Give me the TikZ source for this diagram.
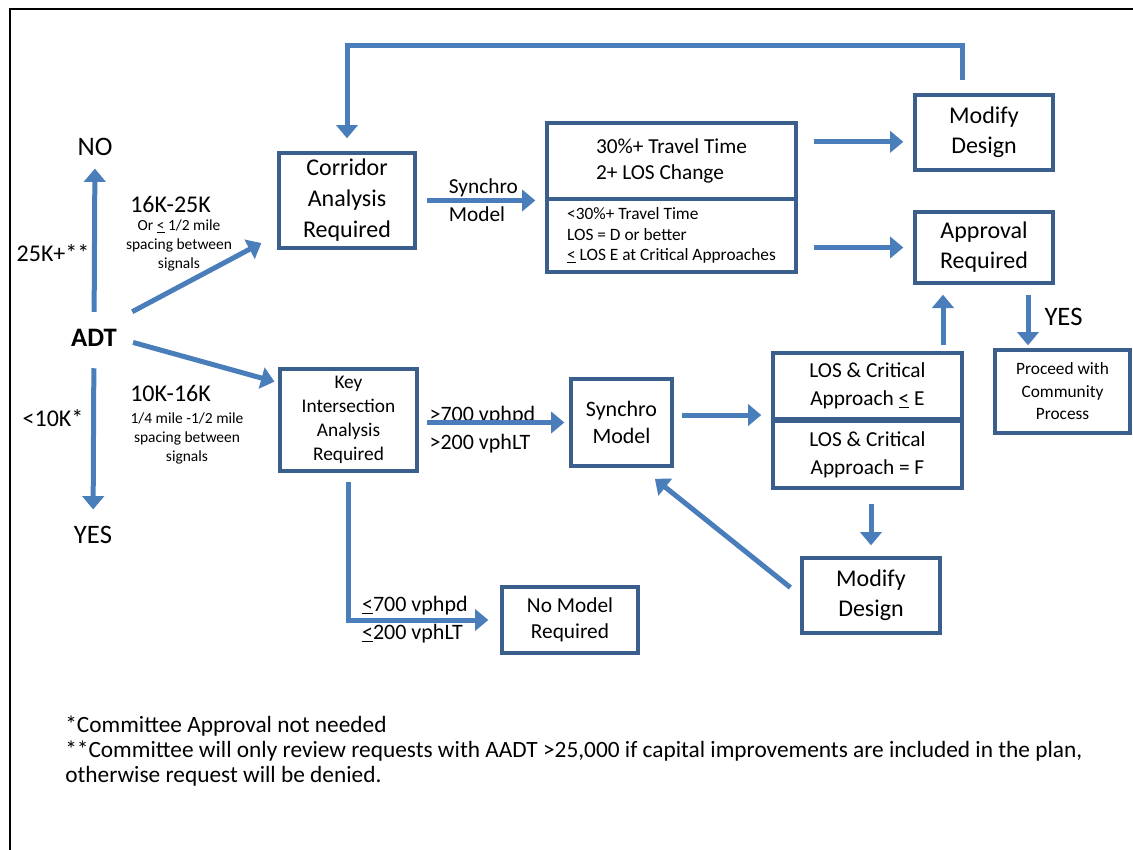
\documentclass[tikz,border=0pt]{standalone}
\usepackage{fontspec}
\setmainfont{Carlito}
\usetikzlibrary{arrows.meta, positioning}
\definecolor{arrowblue}{HTML}{4A7EBB}
\definecolor{boxline}{HTML}{3A5F8C}
\newcommand{\fs}[2]{\fontsize{#1}{#2}\selectfont}

\begin{document}
\begin{tikzpicture}[x=0.75pt, y=-0.75pt,
    box/.style={draw=boxline, line width=2.5pt, rectangle, align=center, inner sep=2pt},
    arr/.style={draw=arrowblue, line width=3.75pt, -{Triangle[length=10pt, width=16pt]}},
    lbl/.style={inner sep=0pt, align=center}]
    \useasboundingbox (0,0) rectangle (1133,850);

    % Outline
    \draw[line width=1.5pt] (10,850) -- (10,9) -- (1133,9);

    % ADT split
    \node[lbl, font=\fs{20}{24}\bfseries] (ADT) at (94,338) {ADT};
    \node[lbl, font=\fs{20}{24}] (No) at (95,147) {NO};
    \node[lbl, font=\fs{20}{24}] (Yes) at (93,535) {YES};
    \node[lbl, font=\fs{18}{22}] (RangeNo) at (53,253) {25K+**};
    \node[lbl, font=\fs{18}{22}] (RangeYes) at (53,418) {<10K*};
    \node[lbl, font=\fs{18}{22}, anchor=west] (RangeCorr) at (130,204) {16K-25K};
    \node[lbl, font=\fs{11.6}{14.25}] (NoteCorr) at (179,245) {Or \underline{<} 1/2 mile\\spacing between\\signals};
    \node[lbl, font=\fs{18}{22}, anchor=west] (RangeKey) at (130,393) {10K-16K};
    \node[lbl, font=\fs{11.6}{14.25}] (NoteKey) at (187,438) {1/4 mile -1/2 mile\\spacing between\\signals};

    % Corridor branch
    \node[box, minimum width=102pt, minimum height=71.25pt, font=\fs{18}{23.25}] (Corridor) at (347,200.5) {Corridor\\Analysis\\Required};
    \node[box, minimum width=186.75pt, minimum height=57pt, font=\fs{16}{20}, align=left] (TravelBad) at (671.5,161) {30\%+ Travel Time\\2+ LOS Change};
    \node[box, minimum width=186.75pt, minimum height=54.75pt, font=\fs{13}{15.4}, align=left] (TravelOk) at (671.5,235.5) {<30\%+ Travel Time\\LOS = D or better\\\underline{<} LOS E at Critical Approaches};
    \node[box, minimum width=103.5pt, minimum height=56.25pt, font=\fs{18}{22.5}] (ModifyTop) at (984,132.5) {Modify\\Design};
    \node[box, minimum width=103.5pt, minimum height=53.25pt, font=\fs{18}{22.5}] (Approval) at (984,247.5) {Approval\\Required};
    \node[box, minimum width=101.25pt, minimum height=62.25pt, font=\fs{13}{16.9}] (Proceed) at (1062.5,391.5) {Proceed with\\Community\\Process};
    \node[lbl, font=\fs{16}{21}, align=left, right=24pt of Corridor.east] (SynchroLbl) {Synchro\\Model};

    % Key intersection branch
    \node[box, minimum width=102.75pt, minimum height=76.5pt, font=\fs{14.5}{18}] (KeyInt) at (348.5,420) {Key\\Intersection\\Analysis\\Required};
    \node[box, minimum width=75.75pt, minimum height=65.25pt, font=\fs{16.5}{20}] (Synchro) at (621.5,422.5) {Synchro\\Model};
    \node[box, minimum width=141.75pt, minimum height=49.5pt, font=\fs{16}{21}] (LosE) at (867.5,386) {LOS \& Critical\\Approach \underline{<} E};
    \node[box, minimum width=141.75pt, minimum height=50.25pt, font=\fs{16}{21}] (LosF) at (867.5,454.5) {LOS \& Critical\\Approach = F};
    \node[box, minimum width=103.5pt, minimum height=56.25pt, font=\fs{18}{22.5}] (ModifyBottom) at (871,595.5) {Modify\\Design};
    \node[box, minimum width=102pt, minimum height=49.5pt, font=\fs{16}{19.5}] (NoModel) at (570,620) {No Model\\Required};
    \node[lbl, font=\fs{16.5}{21}, align=left, anchor=west] (HighVol) at ([xshift=8pt, yshift=-5.6pt]KeyInt.east |- Synchro.west) {\underline{>}700 vphpd\\>200 vphLT};
    \node[lbl, font=\fs{16.5}{21}, align=left, anchor=west] (LowVol) at ([xshift=10pt]KeyInt.south |- NoModel.west) {\underline{<}700 vphpd\\\underline{<}200 vphLT};

    % Notes
    \node[lbl, font=\fs{17.5}{18.75}, align=left, anchor=north west] (Notes) at (65,716) {*Committee Approval not needed\\**Committee will only review requests with AADT >25,000 if capital improvements are included in the plan,\\otherwise request will be denied.};

    % Arrows
    \draw[arr, shorten <=13pt, shorten >=9.4pt] (ADT) -- (No);
    \draw[arr, shorten <=16pt, shorten >=12.4pt] (ADT) -- (Yes);
    \draw[arr, shorten <=12.8pt, shorten >=13.6pt] ([yshift=7pt]ADT.north east) -- (Corridor.206);
    \draw[arr, shorten <=12.4pt, shorten >=3pt] (ADT.east) -- (KeyInt.152);
    \draw[arr, shorten <=7.5pt, shorten >=7.5pt] (Corridor.east) -- (Corridor.east -| TravelOk.north west);
    \draw[arr, shorten <=12pt, shorten >=7.5pt] ([yshift=-7pt]ModifyTop.west -| TravelBad.east) -- ([yshift=-7pt]ModifyTop.west);
    \draw[arr, shorten <=12pt, shorten >=7.5pt] (TravelOk.east |- Approval.west) -- (Approval.west);
    \draw[arr, shorten <=9.75pt, shorten >=9.75pt] ([xshift=-16.5pt]ModifyTop.north) -- ++(0,-48) -| (Corridor.north);
    \draw[arr, shorten <=7.5pt, shorten >=2.25pt] ([xshift=33pt]Approval.south) -- ([xshift=33pt]Approval.south |- Proceed.north)
        node[lbl, midway, right=10.5pt, font=\fs{20}{24}] (YesApproval) {YES};
    \draw[arr, shorten <=4.5pt, shorten >=7.5pt] ([xshift=-30.75pt]Approval.south |- LosE.north) -- ([xshift=-30.75pt]Approval.south);
    \draw[arr, shorten <=10.5pt, shorten >=8.25pt] (LosF.south -| ModifyBottom.north) -- (ModifyBottom.north);
    \draw[arr, shorten <=9.6pt, shorten >=13.4pt] (ModifyBottom.west) -- ([xshift=14.6pt]Synchro.south);
    \draw[arr, shorten <=6pt, shorten >=3.75pt] (KeyInt.east |- Synchro.west) -- (Synchro.west);
    \draw[arr, shorten <=6pt, shorten >=7.5pt] ([yshift=5.6pt]Synchro.east) -- ([yshift=5.6pt]Synchro.east -| LosE.west);
    \draw[arr, shorten <=6.75pt, shorten >=9pt] (KeyInt.south) |- (NoModel.west);
\end{tikzpicture}
\end{document}
